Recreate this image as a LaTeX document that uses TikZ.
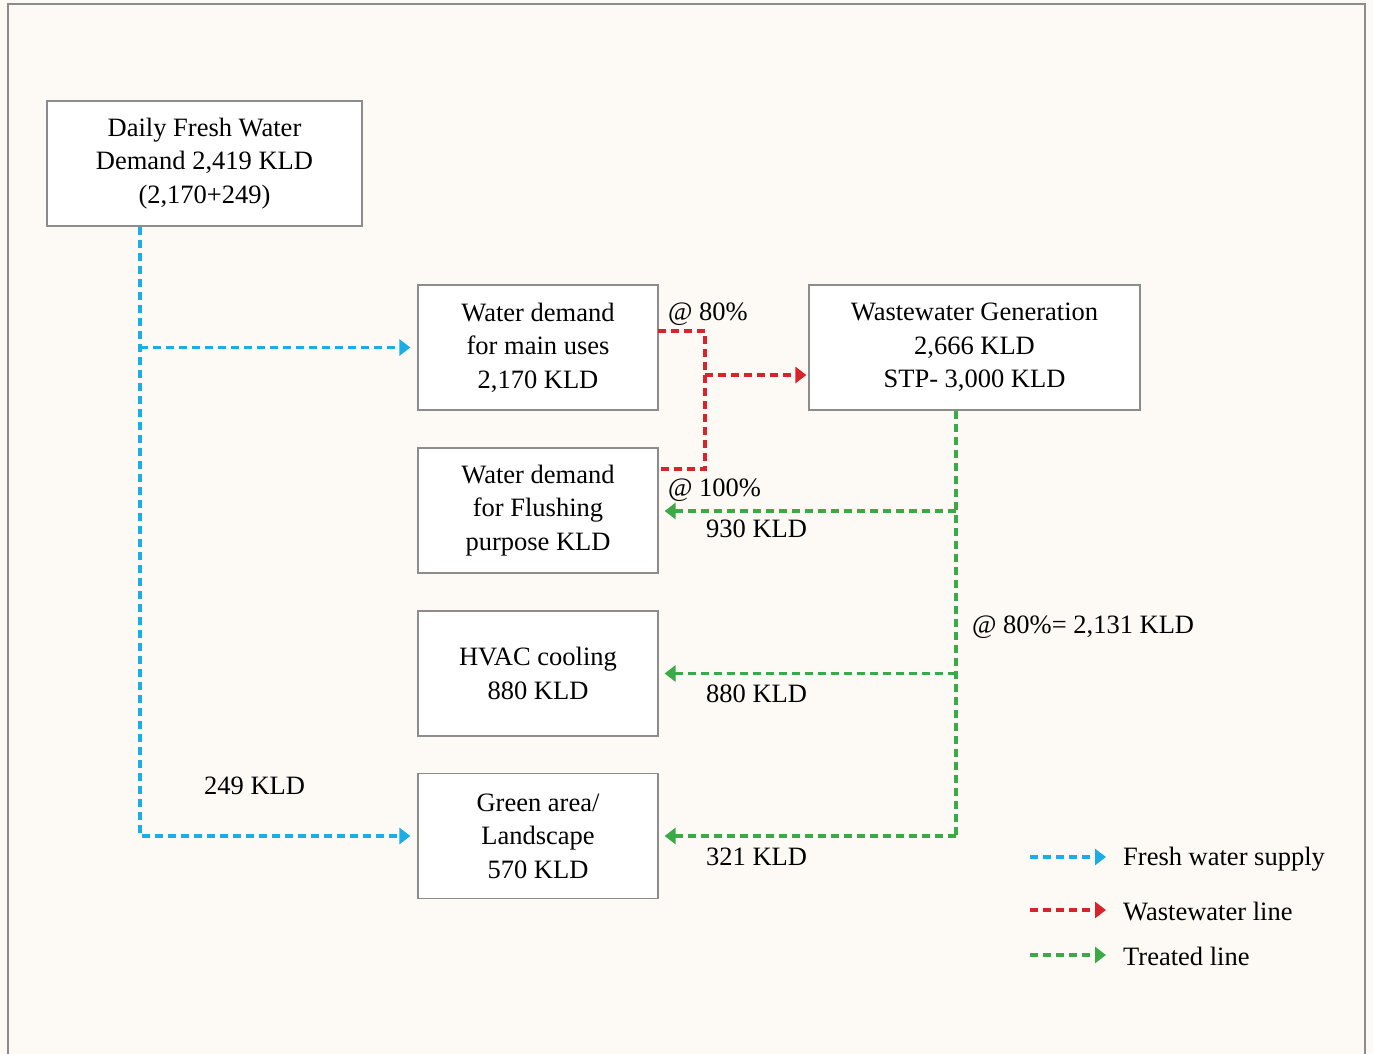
\documentclass[tikz,border=0pt]{standalone}
\usepackage{fontspec}
\setmainfont{Liberation Serif}
\usetikzlibrary{arrows.meta}
\definecolor{bg}{HTML}{FDFAF5}
\definecolor{frame}{HTML}{8C8C8C}
\definecolor{fresh}{HTML}{1AADE8}
\definecolor{waste}{HTML}{D9232A}
\definecolor{treat}{HTML}{3AAA47}
\tikzset{
  box/.style={draw=frame, line width=1.2pt, fill=white, minimum height=125pt, align=center, inner sep=0pt, font=\fontsize{26.5}{33.5}\selectfont},
  lbl/.style={font=\fontsize{26.5}{30}\selectfont, inner sep=0pt},
  flow/.style={line width=3.2pt, dash pattern=on 8pt off 5pt},
  tip/.style={-{Triangle[length=11pt,width=16pt]}},
  freshline/.style={flow, fresh},
  wasteline/.style={flow, waste},
  treatline/.style={flow, treat}
}
\begin{document}
\begin{tikzpicture}[x=1pt,y=-1pt]
\useasboundingbox (0,0) rectangle (1373,1054);
\fill[bg] (0,0) rectangle (1373,1054);
\draw[frame, line width=1.2pt] (8,1070) -- (8,4) -- (1365,4) -- (1365,1070);

\node[box, minimum width=315pt] (fresh) at (204.5,163.5) {Daily Fresh Water\\Demand 2,419 KLD\\(2,170+249)};
\node[box, minimum width=240pt] (main) at (538,347.5) {Water demand\\for main uses\\2,170 KLD};
\node[box, minimum width=240pt] (flush) at (538,510.5) {Water demand\\for Flushing\\purpose KLD};
\node[box, minimum width=240pt] (hvac) at (538,673.5) {HVAC cooling\\880 KLD};
\node[box, minimum width=240pt] (green) at (538,836) {Green area/\\Landscape\\570 KLD};
\node[box, minimum width=331pt] (ww) at (974.5,347.5) {Wastewater Generation\\2,666 KLD\\STP- 3,000 KLD};

% fresh water
\coordinate (fx) at (140,226);
\coordinate (fb) at (140,347.5);
\draw[freshline, tip, shorten >=7pt] (fresh.south -| fx) |- (green.west);
\draw[freshline, tip, shorten >=7pt] (fb) -- (main.west);

% wastewater
\coordinate (wa) at (658,331);
\coordinate (wb) at (705,331);
\coordinate (wc) at (705,469);
\coordinate (wd) at (658,469);
\coordinate (we) at (705,375);
\draw[wasteline] (wa) -- (wb) -- (wc) -- (wd);
\draw[wasteline, tip, shorten >=2pt] (we) -- (we -| ww.west);

% treated
\coordinate (tx) at (956,410);
\coordinate (t1) at (956,511);
\coordinate (t2) at (956,673.5);
\draw[treatline] (ww.south -| tx) -- (956,836);
\draw[treatline, tip, shorten >=6pt] (t1) -- (t1 -| flush.east);
\draw[treatline, tip, shorten >=6pt] (t2) -- (t2 -| hvac.east);
\draw[treatline, tip, shorten >=6pt] (956,836) -- (green.east);

% labels
\node[lbl, anchor=west] (l80) at (668,314) {@ 80\%};
\node[lbl, anchor=west] (l100) at (668,490) {@ 100\%};
\node[lbl, anchor=west] (l930) at (706,529) {930 KLD};
\node[lbl, anchor=west] (l2131) at (972,627) {@ 80\%= 2,131 KLD};
\node[lbl, anchor=west] (l880) at (706,694) {880 KLD};
\node[lbl, anchor=west] (l249) at (204,786) {249 KLD};
\node[lbl, anchor=west] (l321) at (706,857) {321 KLD};

% legend
\coordinate (la) at (1030,857);
\coordinate (lb) at (1106,857);
\coordinate (lc) at (1030,910);
\coordinate (ld) at (1106,910);
\coordinate (le) at (1030,955);
\coordinate (lf) at (1106,955);
\draw[freshline, tip] (la) -- (lb);
\draw[wasteline, tip] (lc) -- (ld);
\draw[treatline, tip] (le) -- (lf);
\node[lbl, anchor=west] (lt1) at (1123,859) {Fresh water supply};
\node[lbl, anchor=west] (lt2) at (1123,911) {Wastewater line};
\node[lbl, anchor=west] (lt3) at (1123,956) {Treated line};
\end{tikzpicture}
\end{document}
